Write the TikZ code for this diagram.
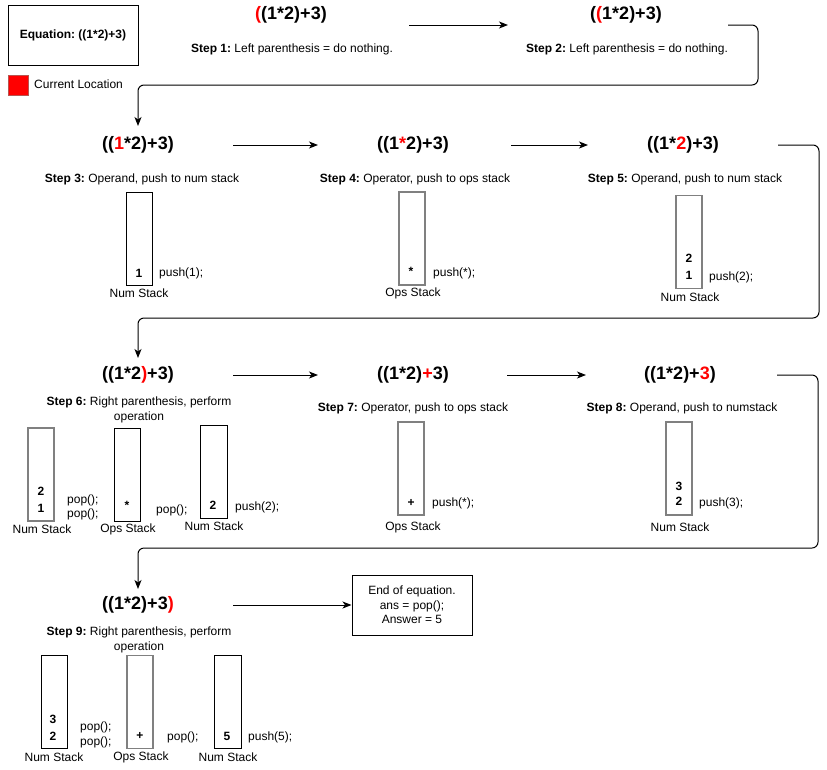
\documentclass[tikz,border=0pt]{standalone}
\usepackage{fontspec}
\setmainfont{Liberation Sans}
\usetikzlibrary{arrows.meta}
\definecolor{hl}{RGB}{255,0,0}
\definecolor{stk}{RGB}{128,128,128}
\definecolor{sqborder}{RGB}{184,84,80}
\frenchspacing
\begin{document}
\begin{tikzpicture}[x=1pt,y=-1pt,
  eq/.style={font=\fontsize{18}{22}\selectfont\bfseries, inner sep=0},
  txt/.style={font=\fontsize{12}{15}\selectfont, inner sep=0, align=center},
  lbl/.style={font=\fontsize{12}{15}\selectfont, inner sep=0, anchor=west},
  dig/.style={font=\fontsize{12}{15}\selectfont\bfseries, inner sep=0},
  stackbox/.style={draw, line width=1pt, minimum width=26pt, minimum height=93pt, inner sep=0},
  gstackbox/.style={stackbox, draw=stk, line width=1.4pt},
  arr/.style={line width=1pt, -{Stealth[length=9pt,width=7pt,inset=2.5pt]}},
  conn/.style={arr, rounded corners=6pt}
]
\useasboundingbox (0,0) rectangle (827,769);

% legend
\node[draw, line width=1pt, minimum width=130pt, minimum height=60pt, inner sep=0,
      font=\fontsize{12}{15}\selectfont\bfseries] (eqbox) at (73,35) {Equation: ((1*2)+3)};
\node[draw=sqborder, fill=hl, minimum size=20pt, inner sep=0] (sq) at (18,85) {};
\node[lbl] (sqlbl) at (34,84) {Current Location};

% step 1 / 2
\node[eq] (e1) at (291,15) {\textcolor{hl}{(}(1*2)+3)};
\node[txt] (t1) at (292,49) {\textbf{Step 1:} Left parenthesis = do nothing.};
\node[eq] (e2) at (626,15) {(\textcolor{hl}{(}1*2)+3)};
\node[txt] (t2) at (627,49) {\textbf{Step 2:} Left parenthesis = do nothing.};
\coordinate (a1s) at (409,25); \coordinate (a1e) at (508,25);
\draw[arr] (a1s) -- (a1e);

% connector 2 -> 3
\coordinate (c2s) at (728,25); \coordinate (c2e) at (138,126);
\draw[conn] (c2s) -- (758,25) -- (758,85) -- (138,85) -- (c2e);

% step 3
\node[eq] (e3) at (138,145) {((\textcolor{hl}{1}*2)+3)};
\node[txt] (t3) at (142,179) {\textbf{Step 3:} Operand, push to num stack};
\node[stackbox] (s3) at (139,238.5) {};
\node[dig] (s3d1) at (139,273) {1};
\node[lbl] (s3p) at (159,273) {push(1);};
\node[txt] (s3l) at (139,293) {Num Stack};

\coordinate (a2s) at (233,145); \coordinate (a2e) at (318,145);
\draw[arr] (a2s) -- (a2e);

% step 4
\node[eq] (e4) at (413,145) {((1\textcolor{hl}{*}2)+3)};
\node[txt] (t4) at (415,179) {\textbf{Step 4:} Operator, push to ops stack};
\node[gstackbox] (s4) at (412,238.5) {};
\node[dig] (s4d1) at (411,271) {*};
\node[lbl] (s4p) at (433,273) {push(*);};
\node[txt] (s4l) at (413,293) {Ops Stack};

\coordinate (a3s) at (511,145); \coordinate (a3e) at (588,145);
\draw[arr] (a3s) -- (a3e);

% step 5
\node[eq] (e5) at (683,145) {((1*\textcolor{hl}{2})+3)};
\node[txt] (t5) at (685,179) {\textbf{Step 5:} Operand, push to num stack};
\node[gstackbox] (s5) at (689,242) {};
\node[dig] (s5d2) at (689,258) {2};
\node[dig] (s5d1) at (689,275) {1};
\node[lbl] (s5p) at (709,277) {push(2);};
\node[txt] (s5l) at (690,297) {Num Stack};

% connector 5 -> 6
\coordinate (c5s) at (778,145); \coordinate (c5e) at (138,358);
\draw[conn] (c5s) -- (819,145) -- (819,318) -- (138,318) -- (c5e);

% step 6
\node[eq] (e6) at (138,375) {((1*2\textcolor{hl}{)}+3)};
\node[txt] (t6) at (139,409.5) {\textbf{Step 6:} Right parenthesis, perform\\operation};
\node[gstackbox] (s6a) at (41,474.5) {};
\node[dig] (s6ad2) at (41,491) {2};
\node[dig] (s6ad1) at (41,508) {1};
\node[lbl] (s6ap1) at (67,500) {pop();};
\node[lbl] (s6ap2) at (67,514) {pop();};
\node[txt] (s6al) at (42,529) {Num Stack};
\node[stackbox] (s6b) at (127,474.5) {};
\node[dig] (s6bd1) at (127,505) {*};
\node[lbl] (s6bp) at (156,510) {pop();};
\node[txt] (s6bl) at (128,529) {Ops Stack};
\node[stackbox, minimum width=27pt] (s6c) at (213.5,471.5) {};
\node[dig] (s6cd1) at (213,505) {2};
\node[lbl] (s6cp) at (235,507) {push(2);};
\node[txt] (s6cl) at (214,526) {Num Stack};

\coordinate (a4s) at (233,375); \coordinate (a4e) at (318,375);
\draw[arr] (a4s) -- (a4e);

% step 7
\node[eq] (e7) at (413,375) {((1*2)\textcolor{hl}{+}3)};
\node[txt] (t7) at (413,408) {\textbf{Step 7:} Operator, push to ops stack};
\node[gstackbox] (s7) at (411,468.5) {};
\node[dig] (s7d1) at (411,503) {+};
\node[lbl] (s7p) at (432,503) {push(*);};
\node[txt] (s7l) at (413,527) {Ops Stack};

\coordinate (a5s) at (507,375); \coordinate (a5e) at (586,375);
\draw[arr] (a5s) -- (a5e);

% step 8
\node[eq] (e8) at (680,375) {((1*2)+\textcolor{hl}{3})};
\node[txt] (t8) at (682,408) {\textbf{Step 8:} Operand, push to numstack};
\node[gstackbox] (s8) at (679,468.5) {};
\node[dig] (s8d2) at (679,486) {3};
\node[dig] (s8d1) at (679,501) {2};
\node[lbl] (s8p) at (699,503) {push(3);};
\node[txt] (s8l) at (680,527) {Num Stack};

% connector 8 -> 9
\coordinate (c8s) at (777,375); \coordinate (c8e) at (138,589);
\draw[conn] (c8s) -- (818,375) -- (818,548) -- (138,548) -- (c8e);

% step 9
\node[eq] (e9) at (138,605) {((1*2)+3\textcolor{hl}{)}};
\node[txt] (t9) at (139,639.5) {\textbf{Step 9:} Right parenthesis, perform\\operation};
\node[stackbox] (s9a) at (54,702) {};
\node[dig] (s9ad2) at (53,719) {3};
\node[dig] (s9ad1) at (53,736) {2};
\node[lbl] (s9ap1) at (80,727) {pop();};
\node[lbl] (s9ap2) at (80,742) {pop();};
\node[txt] (s9al) at (54,757) {Num Stack};
\node[gstackbox] (s9b) at (140,702) {};
\node[dig] (s9bd1) at (140,736) {+};
\node[lbl] (s9bp) at (167,737) {pop();};
\node[txt] (s9bl) at (141,757) {Ops Stack};
\node[stackbox, minimum width=27pt] (s9c) at (227.5,702) {};
\node[dig] (s9cd1) at (227,736) {5};
\node[lbl] (s9cp) at (248,737) {push(5);};
\node[txt] (s9cl) at (228,757) {Num Stack};

\node[draw, line width=1pt, minimum width=120pt, minimum height=60pt, inner sep=0,
      font=\fontsize{12}{14.5}\selectfont, align=center] (end) at (412,605)
      {End of equation.\\ans = pop();\\Answer = 5};
\draw[arr] (233,605) coordinate (a6s) -- (end.west);
\end{tikzpicture}
\end{document}
